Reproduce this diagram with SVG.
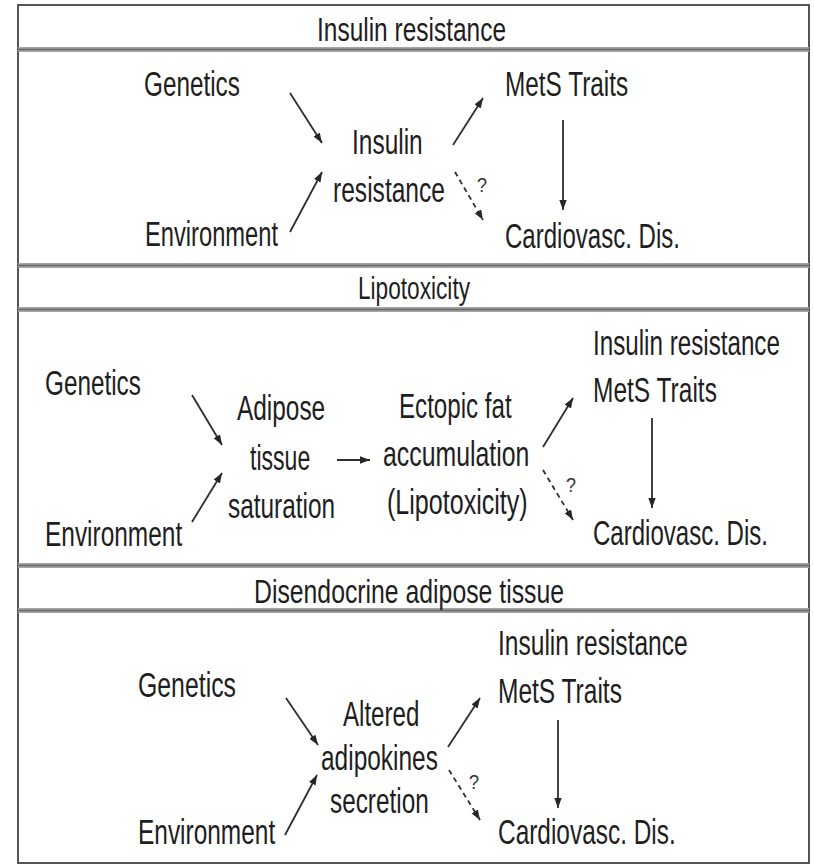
<svg xmlns="http://www.w3.org/2000/svg" width="814" height="865" viewBox="0 0 814 865">
  <style>
    .t { font-family: "Liberation Sans", Arial, sans-serif; font-size: 35px; fill: #1e1e1e; }
    .h { font-family: "Liberation Sans", Arial, sans-serif; font-size: 33px; fill: #1e1e1e; }
    .hs { font-size: 31px; }
    .q { font-family: "Liberation Sans", Arial, sans-serif; font-size: 21px; fill: #333; }
    .ln { stroke: #2e2e2e; stroke-width: 1.8; fill: none; marker-end: url(#ah); }
    .dash { stroke-dasharray: 5 4; }
    .band { fill: #a4a4a4; }
    .bandc { stroke: #666; stroke-width: 1.6; }
  </style>
  <defs>
    <marker id="ah" markerUnits="userSpaceOnUse" markerWidth="12" markerHeight="10" refX="10" refY="4" orient="auto">
      <path d="M0,0.3 L10,4 L0,7.7 Z" fill="#262626"/>
    </marker>
  </defs>

  <rect x="0" y="0" width="814" height="865" fill="#ffffff"/>

  <!-- frame and header bands -->
  <g id="frame">
    <rect x="18" y="5" width="791" height="858" fill="none" stroke="#555" stroke-width="2"/>
    <rect class="band" x="18" y="47" width="791" height="5"/>
    <line class="bandc" x1="18" y1="49.5" x2="809" y2="49.5"/>
    <rect class="band" x="18" y="263" width="791" height="5"/>
    <line class="bandc" x1="18" y1="265.5" x2="809" y2="265.5"/>
    <rect class="band" x="18" y="307" width="791" height="5"/>
    <line class="bandc" x1="18" y1="309.5" x2="809" y2="309.5"/>
    <rect class="band" x="18" y="563" width="791" height="5"/>
    <line class="bandc" x1="18" y1="565.5" x2="809" y2="565.5"/>
    <rect class="band" x="18" y="608" width="791" height="5"/>
    <line class="bandc" x1="18" y1="610.5" x2="809" y2="610.5"/>
  </g>

  <!-- section titles -->
  <g id="title-insulin-resistance"><text class="h" x="317" y="41" textLength="189" lengthAdjust="spacingAndGlyphs">Insulin resistance</text></g>
  <g id="title-lipotoxicity"><text class="h hs" x="358" y="299" textLength="112" lengthAdjust="spacingAndGlyphs">Lipotoxicity</text></g>
  <g id="title-disendocrine"><text class="h" x="254" y="603" textLength="310" lengthAdjust="spacingAndGlyphs">Disendocrine adipose tissue</text></g>

  <!-- body labels use a narrow face: Arial metrics squeezed to 70 % width -->

  <!-- section 1 -->
  <g id="s1-genetics"><text class="t" transform="translate(144,96) scale(0.7,1)" textLength="137" lengthAdjust="spacingAndGlyphs">Genetics</text></g>
  <g id="s1-environment"><text class="t" transform="translate(145,246) scale(0.7,1)" textLength="190" lengthAdjust="spacingAndGlyphs">Environment</text></g>
  <g id="s1-insulin-resistance">
    <text class="t" transform="translate(352,154) scale(0.7,1)" textLength="101" lengthAdjust="spacingAndGlyphs">Insulin</text>
    <text class="t" transform="translate(333,202) scale(0.7,1)" textLength="160" lengthAdjust="spacingAndGlyphs">resistance</text>
  </g>
  <g id="s1-mets"><text class="t" transform="translate(505,96) scale(0.7,1)" textLength="176" lengthAdjust="spacingAndGlyphs">MetS Traits</text></g>
  <g id="s1-cvd"><text class="t" transform="translate(505,248) scale(0.7,1)" textLength="250" lengthAdjust="spacingAndGlyphs">Cardiovasc. Dis.</text></g>

  <!-- section 2 -->
  <g id="s2-genetics"><text class="t" transform="translate(45,395) scale(0.7,1)" textLength="137" lengthAdjust="spacingAndGlyphs">Genetics</text></g>
  <g id="s2-environment"><text class="t" transform="translate(45,546) scale(0.7,1)" textLength="196" lengthAdjust="spacingAndGlyphs">Environment</text></g>
  <g id="s2-adipose-saturation">
    <text class="t" transform="translate(237,420) scale(0.7,1)" textLength="126" lengthAdjust="spacingAndGlyphs">Adipose</text>
    <text class="t" transform="translate(250,470) scale(0.7,1)" textLength="86" lengthAdjust="spacingAndGlyphs">tissue</text>
    <text class="t" transform="translate(228,518) scale(0.7,1)" textLength="153" lengthAdjust="spacingAndGlyphs">saturation</text>
  </g>
  <g id="s2-ectopic-fat">
    <text class="t" transform="translate(399,418) scale(0.7,1)" textLength="161" lengthAdjust="spacingAndGlyphs">Ectopic fat</text>
    <text class="t" transform="translate(383,466) scale(0.7,1)" textLength="209" lengthAdjust="spacingAndGlyphs">accumulation</text>
    <text class="t" transform="translate(387,514) scale(0.7,1)" textLength="201" lengthAdjust="spacingAndGlyphs">(Lipotoxicity)</text>
  </g>
  <g id="s2-ir-mets">
    <text class="t" transform="translate(593,355) scale(0.7,1)" textLength="267" lengthAdjust="spacingAndGlyphs">Insulin resistance</text>
    <text class="t" transform="translate(593,402) scale(0.7,1)" textLength="177" lengthAdjust="spacingAndGlyphs">MetS Traits</text>
  </g>
  <g id="s2-cvd"><text class="t" transform="translate(593,545) scale(0.7,1)" textLength="250" lengthAdjust="spacingAndGlyphs">Cardiovasc. Dis.</text></g>

  <!-- section 3 -->
  <g id="s3-genetics"><text class="t" transform="translate(138,697) scale(0.7,1)" textLength="140" lengthAdjust="spacingAndGlyphs">Genetics</text></g>
  <g id="s3-environment"><text class="t" transform="translate(138,844) scale(0.7,1)" textLength="196" lengthAdjust="spacingAndGlyphs">Environment</text></g>
  <g id="s3-adipokines">
    <text class="t" transform="translate(343,726) scale(0.7,1)" textLength="109" lengthAdjust="spacingAndGlyphs">Altered</text>
    <text class="t" transform="translate(321,770) scale(0.7,1)" textLength="167" lengthAdjust="spacingAndGlyphs">adipokines</text>
    <text class="t" transform="translate(330,813) scale(0.7,1)" textLength="141" lengthAdjust="spacingAndGlyphs">secretion</text>
  </g>
  <g id="s3-ir-mets">
    <text class="t" transform="translate(498,655) scale(0.7,1)" textLength="271" lengthAdjust="spacingAndGlyphs">Insulin resistance</text>
    <text class="t" transform="translate(498,703) scale(0.7,1)" textLength="177" lengthAdjust="spacingAndGlyphs">MetS Traits</text>
  </g>
  <g id="s3-cvd"><text class="t" transform="translate(498,844) scale(0.7,1)" textLength="254" lengthAdjust="spacingAndGlyphs">Cardiovasc. Dis.</text></g>

  <!-- connectors -->
  <g id="connectors">
    <line class="ln" x1="290" y1="93" x2="322" y2="143"/>
    <line class="ln" x1="290" y1="232" x2="322" y2="172"/>
    <line class="ln" x1="453" y1="145" x2="483" y2="98"/>
    <line class="ln dash" x1="455" y1="172" x2="483" y2="220"/>
    <line class="ln" x1="563" y1="120" x2="563" y2="210"/>
    <text class="q" x="477" y="192" textLength="10" lengthAdjust="spacingAndGlyphs">?</text>

    <line class="ln" x1="192" y1="395" x2="222" y2="445"/>
    <line class="ln" x1="192" y1="522" x2="222" y2="473"/>
    <line class="ln" x1="337" y1="460" x2="370" y2="460"/>
    <line class="ln" x1="543" y1="447" x2="573" y2="398"/>
    <line class="ln dash" x1="543" y1="470" x2="573" y2="520"/>
    <line class="ln" x1="652" y1="418" x2="652" y2="508"/>
    <text class="q" x="566" y="492" textLength="10" lengthAdjust="spacingAndGlyphs">?</text>

    <line class="ln" x1="286" y1="698" x2="318" y2="745"/>
    <line class="ln" x1="285" y1="835" x2="317" y2="775"/>
    <line class="ln" x1="448" y1="747" x2="480" y2="698"/>
    <line class="ln dash" x1="449" y1="770" x2="480" y2="820"/>
    <line class="ln" x1="558" y1="720" x2="558" y2="808"/>
    <text class="q" x="469" y="789" textLength="10" lengthAdjust="spacingAndGlyphs">?</text>
  </g>
</svg>
